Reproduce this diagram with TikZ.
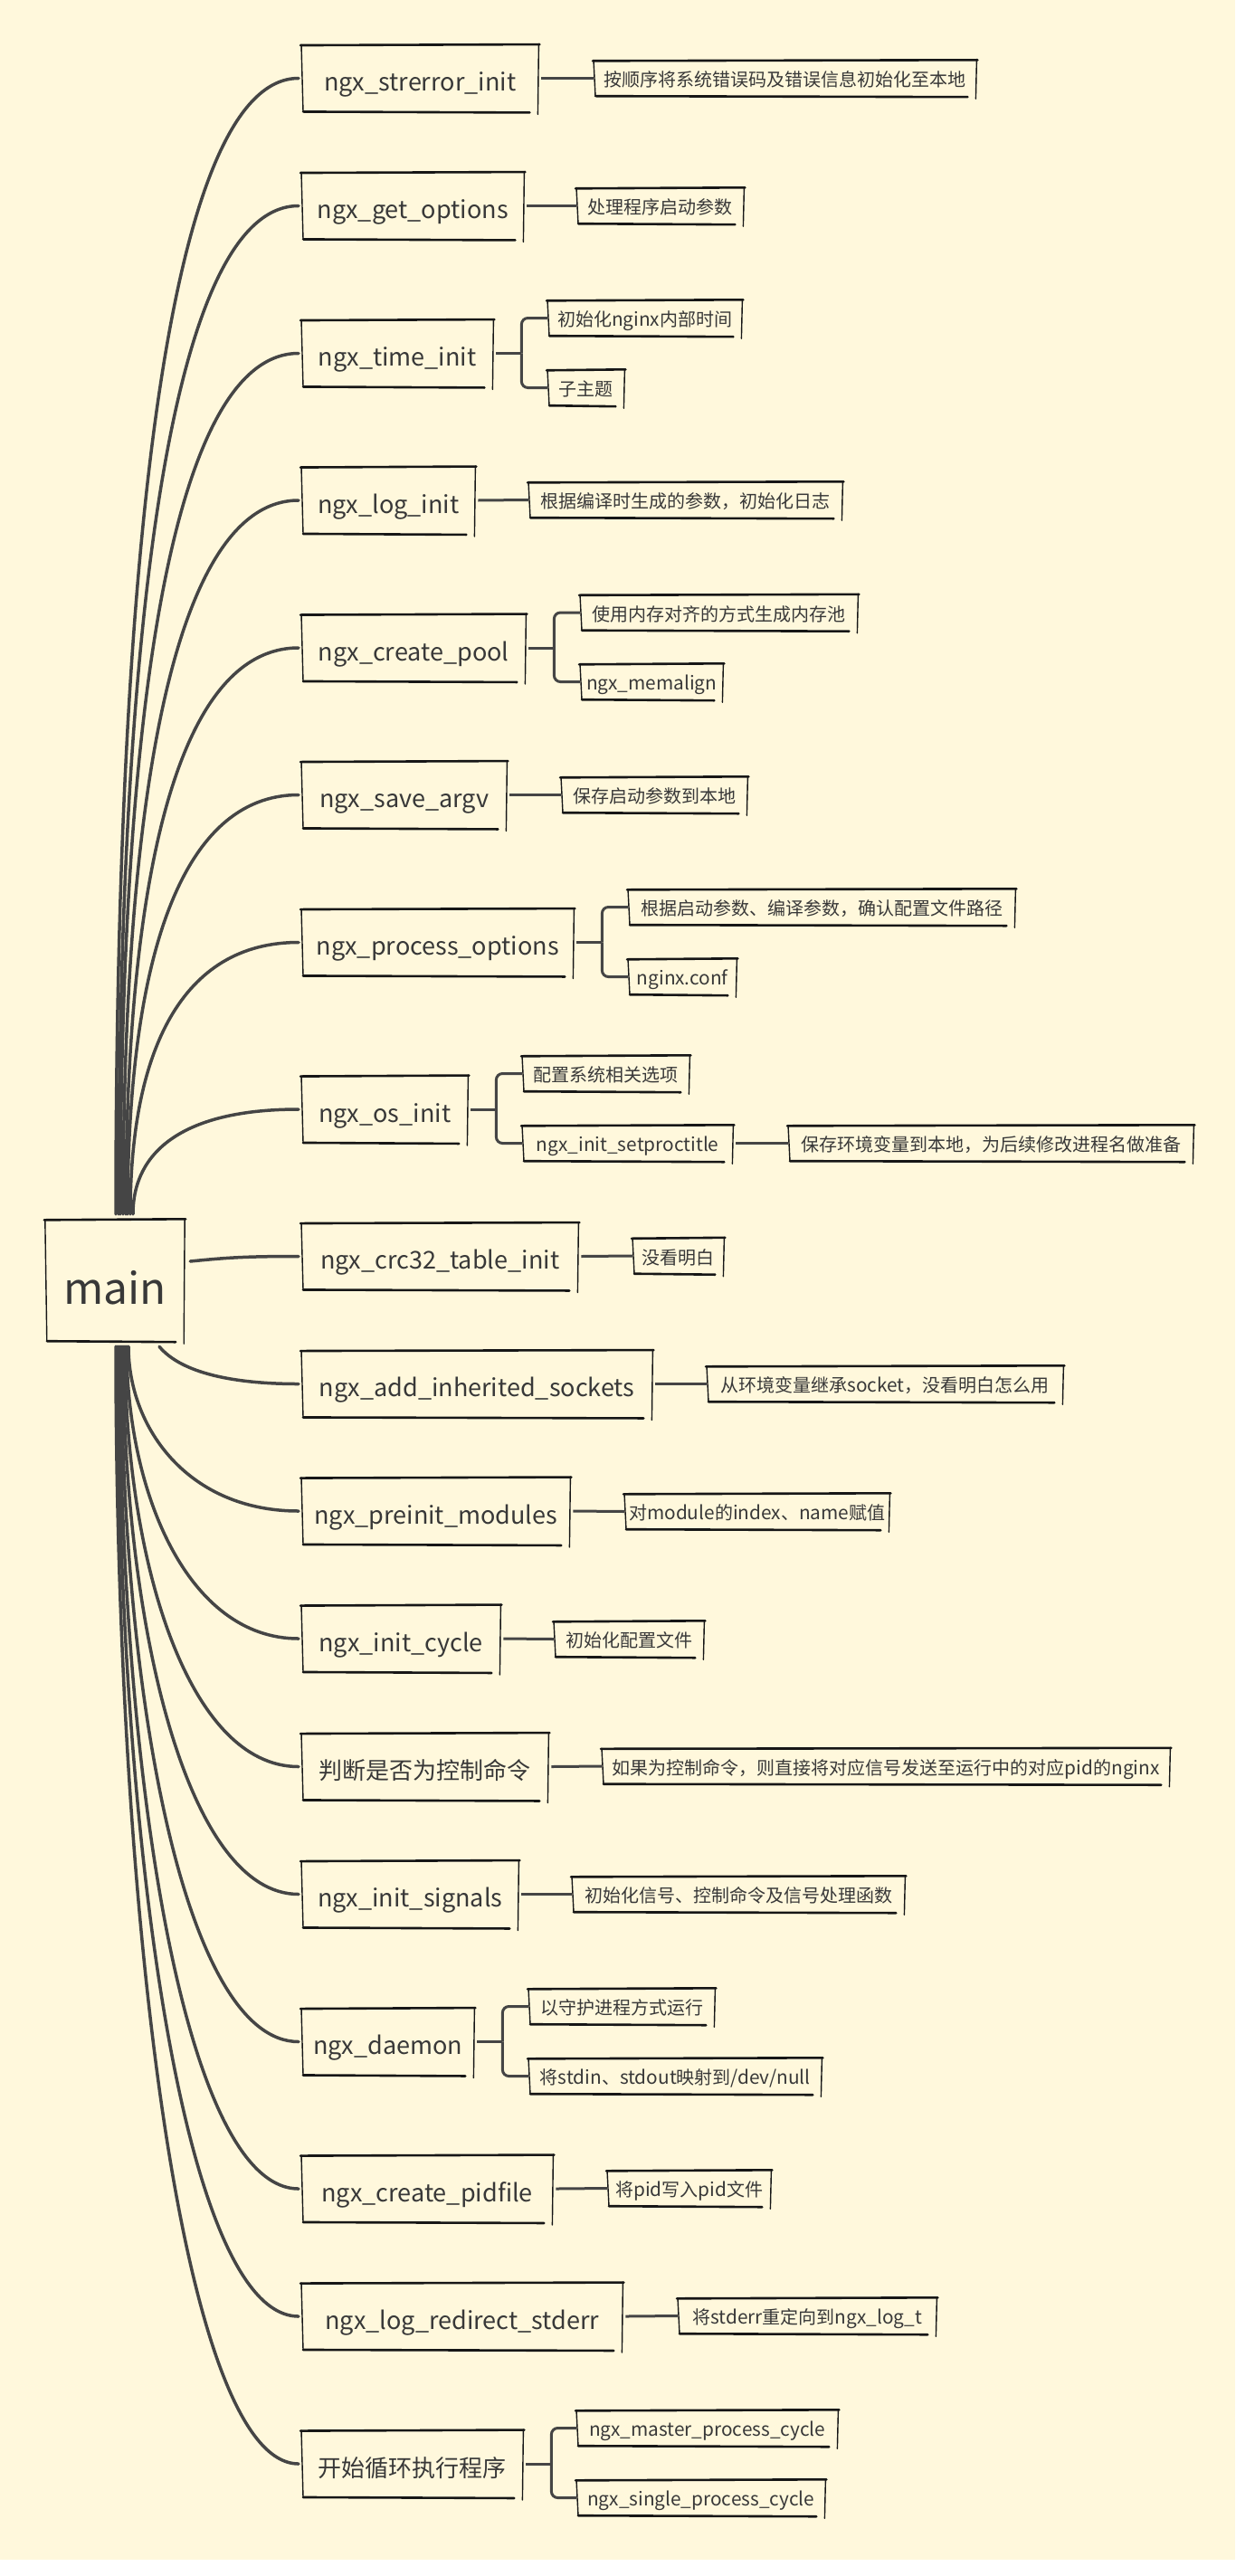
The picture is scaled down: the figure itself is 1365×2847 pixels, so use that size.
\documentclass[tikz,border=0pt]{standalone}
\usepackage{fontspec}
\setmainfont{Noto Sans CJK SC}
\newfontfamily\latf{Noto Sans CJK SC}[Scale=1.04]
\usetikzlibrary{calc}
\definecolor{bgc}{HTML}{FFF8DC}
\definecolor{linec}{HTML}{454545}
\definecolor{boxc}{HTML}{161616}
\definecolor{txtc}{HTML}{383838}
\newcommand\LatX[1]{{\latf #1}}
\newcommand\skb[1]{%
  \draw[skA] ($(#1.north west)+(-1,0.5)$) -- ($(#1.north east)+(1,-0.5)$);
  \draw[skB] (#1.north west) -- ($(#1.south west)+(2,0)$);
  \draw[skA] ($(#1.south west)+(2,0)$) -- ($(#1.south east)+(-10,1)$);
  \draw[skB] ($(#1.north east)+(0,-1)$) -- ($(#1.south east)+(-1,3)$);
}
\begin{document}
\begin{tikzpicture}[x=1pt,y=-1pt,
  skA/.style={draw=boxc, line width=2.6pt, line cap=round},
  skB/.style={draw=boxc, line width=1.4pt, line cap=round},
  box/.style={anchor=west, inner sep=0pt, text=txtc},
  lone/.style={box, minimum height=73.5pt, text height=28pt, text depth=0pt, font=\fontsize{26}{30}\selectfont},
  cbox/.style={box, minimum height=39pt, text height=18.5pt, text depth=0pt, font=\fontsize{20}{24}\selectfont},
  mline/.style={draw=linec, line width=3.5pt, line cap=round},
  cline/.style={draw=linec, line width=3pt}
]
\useasboundingbox (0,0) rectangle (1365,2847);
\fill[white] (0,0) rectangle (1365,2847);
\fill[bgc] (0,0) rectangle (1365,2829);

% main
\node[box, anchor=center, minimum width=154pt, minimum height=134pt, text height=52pt, text depth=0pt, font=\fontsize{46}{50}\selectfont] (main) at (127,1415) {\latf main};

% level 1
\node[lone, minimum width=262pt] (n1) at (333,86.5) {\latf ngx\_strerror\_init};
\node[lone, minimum width=246pt] (n2) at (333,227.5) {\latf ngx\_get\_options};
\node[lone, minimum width=212pt] (n3) at (333,390.5) {\latf ngx\_time\_init};
\node[lone, minimum width=192pt] (n4) at (333,553) {\latf ngx\_log\_init};
\node[lone, minimum width=248pt] (n5) at (333,716) {\latf ngx\_create\_pool};
\node[lone, minimum width=227pt] (n6) at (333,878.5) {\latf ngx\_save\_argv};
\node[lone, minimum width=301pt] (n7) at (333,1041.5) {\latf ngx\_process\_options};
\node[lone, minimum width=184pt] (n8) at (333,1226) {\latf ngx\_os\_init};
\node[lone, minimum width=306pt] (n9) at (333,1388.5) {\latf ngx\_crc32\_table\_init};
\node[lone, minimum width=388pt] (n10) at (333,1529.5) {\latf ngx\_add\_inherited\_sockets};
\node[lone, minimum width=297pt] (n11) at (333,1670) {\latf ngx\_preinit\_modules};
\node[lone, minimum width=220pt] (n12) at (333,1811) {\latf ngx\_init\_cycle};
\node[lone, minimum width=273pt] (n13) at (333,1952.5) {判断是否为控制命令};
\node[lone, minimum width=240pt] (n14) at (333,2093.5) {\latf ngx\_init\_signals};
\node[lone, minimum width=191pt] (n15) at (333,2256.5) {\latf ngx\_daemon};
\node[lone, minimum width=278pt] (n16) at (333,2419) {\latf ngx\_create\_pidfile};
\node[lone, minimum width=355pt] (n17) at (333,2560) {\latf ngx\_log\_redirect\_stderr};
\node[lone, minimum width=245pt] (n18) at (333,2723) {开始循环执行程序};

% children
\node[cbox, minimum width=423pt] (c1) at (656,86.5) {按顺序将系统错误码及错误信息初始化至本地};
\node[cbox, minimum width=185pt] (c2) at (637,227.5) {处理程序启动参数};
\node[cbox, minimum width=215pt] (c3a) at (605,351.5) {初始化\LatX{nginx}内部时间};
\node[cbox, minimum width=85pt] (c3b) at (605,428.5) {子主题};
\node[cbox, minimum width=347pt] (c4) at (584,552.5) {根据编译时生成的参数，初始化日志};
\node[cbox, minimum width=307pt] (c5a) at (641,677) {使用内存对齐的方式生成内存池};
\node[cbox, minimum width=158pt] (c5b) at (641,753.5) {\latf ngx\_memalign};
\node[cbox, minimum width=206pt] (c6) at (620,878.5) {保存启动参数到本地};
\node[cbox, minimum width=428pt] (c7a) at (694,1002.5) {根据启动参数、编译参数，确认配置文件路径};
\node[cbox, minimum width=120pt] (c7b) at (694,1079.5) {\latf nginx.conf};
\node[cbox, minimum width=185pt] (c8a) at (577,1186.5) {配置系统相关选项};
\node[cbox, minimum width=233pt] (c8b) at (577,1263.5) {\latf ngx\_init\_setproctitle};
\node[cbox, minimum width=448pt] (c8c) at (871,1263.5) {保存环境变量到本地，为后续修改进程名做准备};
\node[cbox, minimum width=101pt] (c9) at (699,1388) {没看明白};
\node[cbox, minimum width=394pt] (c10) at (781,1529.5) {从环境变量继承\LatX{socket}，没看明白怎么用};
\node[cbox, minimum width=293pt] (c11) at (690,1670.5) {对\LatX{module}的\LatX{index}、\LatX{name}赋值};
\node[cbox, minimum width=166pt] (c12) at (612,1811.5) {初始化配置文件};
\node[cbox, minimum width=628pt] (c13) at (665,1952) {如果为控制命令，则直接将对应信号发送至运行中的对应\LatX{pid}的\LatX{nginx}};
\node[cbox, minimum width=368pt] (c14) at (632,2093.5) {初始化信号、控制命令及信号处理函数};
\node[cbox, minimum width=206pt] (c15a) at (584,2217.5) {以守护进程方式运行};
\node[cbox, minimum width=324pt] (c15b) at (584,2294.5) {将\LatX{stdin}、\LatX{stdout}映射到\LatX{/dev/null}};
\node[cbox, minimum width=181pt] (c16) at (671,2418.5) {将\LatX{pid}写入\LatX{pid}文件};
\node[cbox, minimum width=286pt] (c17) at (749,2559.5) {将\LatX{stderr}重定向到\LatX{ngx\_log\_t}};
\node[cbox, minimum width=289pt] (c18a) at (637,2683.5) {\latf ngx\_master\_process\_cycle};
\node[cbox, minimum width=275pt] (c18b) at (637,2760.5) {\latf ngx\_single\_process\_cycle};

% sketchy borders
\foreach \n in {main,n1,n2,n3,n4,n5,n6,n7,n8,n9,n10,n11,n12,n13,n14,n15,n16,n17,n18,
  c1,c2,c3a,c3b,c4,c5a,c5b,c6,c7a,c7b,c8a,c8b,c8c,c9,c10,c11,c12,c13,c14,c15a,c15b,c16,c17,c18a,c18b}
  {\skb{\n}}

% main curves (upper)
\foreach \t/\d in {n1/1,n2/4,n3/6,n4/9,n5/12,n6/14,n7/17,n8/20}{
  \coordinate (s) at ($(main.north)+(\d,-6)$);
  \draw[mline] (s) .. controls ($(s)!0.6!(s|-\t.west)$) and ($(s|-\t.west)!0.3!(\t.west)$) .. ([xshift=-3pt]\t.west);
}
% main curves (lower)
\foreach \t/\d in {n11/15,n12/13,n13/11,n14/9,n15/7,n16/5,n17/3,n18/1}{
  \coordinate (s) at ($(main.south)+(\d,6)$);
  \draw[mline] (s) .. controls ($(s)!0.5!(s|-\t.west)$) and ($(s|-\t.west)!0.35!(\t.west)$) .. ([xshift=-3pt]\t.west);
}
\draw[mline] ($(main.south)+(49,6)$) .. controls +(25,30) and +(-70,0) .. ([xshift=-3pt]n10.west);
\draw[mline] ($(main.east)+(6,-21)$) .. controls +(40,-4) and +(-60,0) .. ([xshift=-3pt]n9.west);

% single child connectors
\foreach \p/\c in {n1/c1,n2/c2,n4/c4,n6/c6,n9/c9,n10/c10,n11/c11,n12/c12,n13/c13,n14/c14,n16/c16,n17/c17,c8b/c8c}{
  \draw[cline] ([xshift=3pt]\p.east) -- (\c.west);
}
% bracket connectors
\foreach \p/\a/\b in {n3/c3a/c3b,n5/c5a/c5b,n7/c7a/c7b,n8/c8a/c8b,n15/c15a/c15b,n18/c18a/c18b}{
  \coordinate (b) at ($(\p.east)+(31,0)$);
  \draw[cline] ([xshift=3pt]\p.east) -- (b);
  \draw[cline, rounded corners=7pt] (b) |- (\a.west);
  \draw[cline, rounded corners=7pt] (b) |- (\b.west);
}
\end{tikzpicture}
\end{document}
